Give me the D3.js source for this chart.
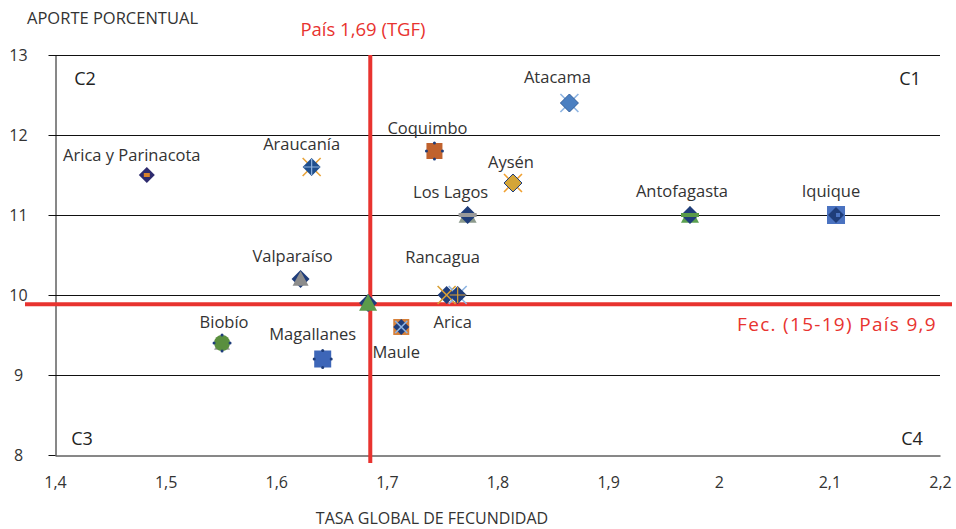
<!DOCTYPE html>
<html>
<head>
<meta charset="utf-8">
<script src="https://cdn.jsdelivr.net/npm/d3@7"></script>
<style>
  body { margin: 0; background: #fff; }
  svg text { font-family: "Open Sans", "DejaVu Sans", sans-serif; }
</style>
</head>
<body>
<svg id="chart" width="956" height="529"></svg>
<script>
// data
var regions = ["Arica y Parinacota", "Araucanía", "Coquimbo", "Aysén", "Atacama", "Los Lagos",
               "Antofagasta", "Iquique", "Valparaíso", "País", "Rancagua", "Arica", "Maule",
               "Biobío", "Magallanes"];
var tgf     = [1.483, 1.632, 1.743, 1.814, 1.865, 1.773, 1.974, 2.106, 1.622, 1.683, 1.754, 1.764, 1.713, 1.551, 1.642];
var aporte  = [11.5, 11.6, 11.8, 11.4, 12.4, 11.0, 11.0, 11.0, 10.2, 9.9, 10.0, 10.0, 9.6, 9.4, 9.2];
var xTicks  = [1.4, 1.5, 1.6, 1.7, 1.8, 1.9, 2.0, 2.1, 2.2];
var yTicks  = [8, 9, 10, 11, 12, 13];
var refTGF = 1.685, refFec = 9.885;
var quadrants = ["C1", "C2", "C3", "C4"];

(function() {
  var svg = d3.select("#chart"),
      margin = {top: 55, right: 16, bottom: 74, left: 55},
      width = +svg.attr("width") - margin.left - margin.right,
      height = +svg.attr("height") - margin.top - margin.bottom;

  var x = d3.scaleLinear().domain([1.4, 2.2]).range([0, width]),
      y = d3.scaleLinear().domain([8, 13]).range([height, 0]);

  var g = svg.append("g")
      .attr("transform", "translate(" + margin.left + "," + margin.top + ")");

  // gridlines
  g.append("g")
      .selectAll("line")
      .data(yTicks.slice(1))
      .enter().append("line")
        .attr("x1", 0).attr("x2", width)
        .attr("y1", function(d) { return Math.round(y(d)) + 0.5; })
        .attr("y2", function(d) { return Math.round(y(d)) + 0.5; })
        .attr("stroke", "#111").attr("stroke-width", 1);

  // axes
  var yAxis = g.append("g")
      .attr("transform", "translate(0.5,0)")
      .call(d3.axisLeft(y).tickValues(yTicks).tickSize(7).tickSizeOuter(0)
            .tickFormat(d3.format("d")));
  yAxis.select(".domain").attr("stroke", "#111");
  yAxis.selectAll(".tick line").attr("stroke", "#111");
  yAxis.selectAll("text").attr("font-size", 16).attr("fill", "#333")
      .attr("x", -37).attr("text-anchor", "middle");

  var xAxis = g.append("g")
      .attr("transform", "translate(0," + (height + 0.5) + ")")
      .call(d3.axisBottom(x).tickValues(xTicks).tickSize(0).tickSizeOuter(0)
            .tickFormat(function(d) { return d3.format(".1f")(d).replace(".", ","); }));
  xAxis.select(".domain").attr("stroke", "#111");
  xAxis.selectAll("text").attr("font-size", 16).attr("fill", "#333").attr("y", 21);
  xAxis.selectAll(".tick").filter(function(d) { return d === 2; })
      .select("text").text("2");

  // axis titles
  svg.append("text").attr("x", 27).attr("y", 24)
      .attr("font-size", 16.5).attr("fill", "#333")
      .text("APORTE PORCENTUAL");
  svg.append("text").attr("x", 432).attr("y", 524)
      .attr("text-anchor", "middle").attr("font-size", 16).attr("fill", "#333")
      .text("TASA GLOBAL DE FECUNDIDAD");

  // quadrant labels
  var qPos = {C1: [width - 30, y(12.7)], C2: [30, y(12.7)], C3: [27, y(8.2)], C4: [width - 28, y(8.2)]};
  g.selectAll(".quad")
      .data(quadrants)
      .enter().append("text")
        .attr("class", "quad")
        .attr("x", function(d) { return qPos[d][0]; })
        .attr("y", function(d) { return qPos[d][1]; })
        .attr("dy", "0.35em")
        .attr("text-anchor", "middle")
        .attr("font-size", 18).attr("fill", "#222")
        .text(function(d) { return d; });

  // reference lines
  var red = "#e8332f";
  g.append("line")
      .attr("x1", -30).attr("x2", width + 12)
      .attr("y1", y(refFec)).attr("y2", y(refFec))
      .attr("stroke", red).attr("stroke-width", 4);
  g.append("line")
      .attr("x1", x(refTGF)).attr("x2", x(refTGF))
      .attr("y1", 0).attr("y2", height + 8)
      .attr("stroke", red).attr("stroke-width", 4);

  svg.append("text").attr("x", 363).attr("y", 36)
      .attr("text-anchor", "middle").attr("font-size", 18.5).attr("fill", red)
      .text("País 1,69 (TGF)");
  g.append("text").attr("x", 937 - margin.left).attr("y", y(refFec) + 27)
      .attr("text-anchor", "end")
      .attr("font-size", 19).attr("letter-spacing", 1.3).attr("fill", red)
      .text("Fec. (15-19) País 9,9");

  // marker styles (Excel overlapped series look)
  var navy = "#1f3d7a";
  var markerStyle = {
    "Arica y Parinacota": [["diamond", 8, "#2e2b6e"], ["bar", 3, "#d9822b"]],
    "Araucanía": [["xcross", 9, "#e8a33a"], ["diamond", 9, "#1f4e8c"], ["plus", 8, "#8fb3e0"]],
    "Coquimbo": [["square", 8, "#c0622e"], ["dots", 8, navy]],
    "Aysén": [["xcross", 9, "#f0a030"], ["diamond", 9, "#d4a537", navy]],
    "Atacama": [["xcross", 9, "#8db4e2"], ["diamond", 9, "#4a7fc1", "#2f5d9a"]],
    "Los Lagos": [["triangle", 9, "#8c9a8c"], ["diamond", 9, navy], ["bar", 9, "#9a9a9a"]],
    "Antofagasta": [["triangle", 9, "#5aa050"], ["diamond", 9, navy], ["bar", 9, "#5a9a48"]],
    "Iquique": [["square", 9, "#4a72c0"], ["diamond", 8, navy], ["rectR", 4, "#4a72c0"]],
    "Valparaíso": [["diamond", 9, navy], ["triangle", 8, "#8c8c8c"]],
    "País": [["diamond", 9, navy], ["triangle", 9, "#5b9b4b"]],
    "Rancagua": [["diamond", 9, navy], ["xcross", 9, "#d9a035"]],
    "Arica": [["xcross", 9, "#8db4e2"], ["diamond", 9, navy], ["plus", 8, "#d9a035"]],
    "Maule": [["square", 8, "#d7813a"], ["diamond", 8, navy], ["xcross", 6, "#8db4e2"]],
    "Biobío": [["triangle", 8, "#9a9a9a"], ["circle", 8, "#5a8f3e"], ["dots", 8, navy]],
    "Magallanes": [["square", 8.5, "#3d66b8"], ["dots", 8.5, navy]]
  };

  function drawLayer(sel, l) {
    var t = l[0], r = l[1], c = l[2], s = l[3];
    if (t === "diamond") {
      sel.append("path").attr("d", "M0," + (-r) + "L" + r + ",0L0," + r + "L" + (-r) + ",0Z")
          .attr("fill", c).attr("stroke", s || "none").attr("stroke-width", 1);
    } else if (t === "square") {
      sel.append("rect").attr("x", -r).attr("y", -r).attr("width", 2 * r).attr("height", 2 * r)
          .attr("fill", c);
    } else if (t === "rectR") {
      sel.append("rect").attr("x", 0).attr("y", -r / 2).attr("width", r).attr("height", r)
          .attr("fill", c);
    } else if (t === "triangle") {
      sel.append("path").attr("d", "M0," + (-r) + "L" + r + "," + (r * 0.85) + "L" + (-r) + "," + (r * 0.85) + "Z")
          .attr("fill", c);
    } else if (t === "circle") {
      sel.append("circle").attr("r", r).attr("fill", c);
    } else if (t === "xcross") {
      sel.append("path").attr("d", "M" + (-r) + "," + (-r) + "L" + r + "," + r + "M" + r + "," + (-r) + "L" + (-r) + "," + r)
          .attr("stroke", c).attr("stroke-width", 1.6).attr("fill", "none");
    } else if (t === "plus") {
      sel.append("path").attr("d", "M" + (-r) + ",0L" + r + ",0M0," + (-r) + "L0," + r)
          .attr("stroke", c).attr("stroke-width", 1.2).attr("fill", "none");
    } else if (t === "bar") {
      sel.append("rect").attr("x", -r).attr("y", -2).attr("width", 2 * r).attr("height", 4)
          .attr("fill", c);
    } else if (t === "dots") {
      [[0, -r], [r, 0], [0, r], [-r, 0]].forEach(function(p) {
        sel.append("circle").attr("cx", p[0]).attr("cy", p[1]).attr("r", 1.5).attr("fill", c);
      });
    }
  }

  var data = regions.map(function(name, i) {
    return {name: name, tgf: tgf[i], aporte: aporte[i]};
  });

  var points = g.selectAll(".pt")
      .data(data)
      .enter().append("g")
        .attr("class", "pt")
        .attr("transform", function(d) { return "translate(" + x(d.tgf) + "," + y(d.aporte) + ")"; });

  points.each(function(d) {
    var sel = d3.select(this);
    markerStyle[d.name].forEach(function(l) { drawLayer(sel, l); });
  });

  // label offsets from each point (pixels)
  var labelOffset = {
    "Arica y Parinacota": [-15, -14], "Araucanía": [-10, -17], "Coquimbo": [-7, -17],
    "Aysén": [-2, -15], "Atacama": [-12, -20], "Los Lagos": [-17, -17], "Antofagasta": [-8, -18],
    "Iquique": [-5, -18], "Valparaíso": [-8, -17], "Rancagua": [-4, -32], "Arica": [-5, 33],
    "Maule": [-5, 31], "Biobío": [2, -15], "Magallanes": [-10, -19]
  };

  g.selectAll(".lbl")
      .data(data.filter(function(d) { return labelOffset[d.name]; }))
      .enter().append("text")
        .attr("class", "lbl")
        .attr("x", function(d) { return x(d.tgf) + labelOffset[d.name][0]; })
        .attr("y", function(d) { return y(d.aporte) + labelOffset[d.name][1]; })
        .attr("text-anchor", "middle")
        .attr("font-size", 16.5).attr("fill", "#333")
        .text(function(d) { return d.name; });
})();
</script>
</body>
</html>
